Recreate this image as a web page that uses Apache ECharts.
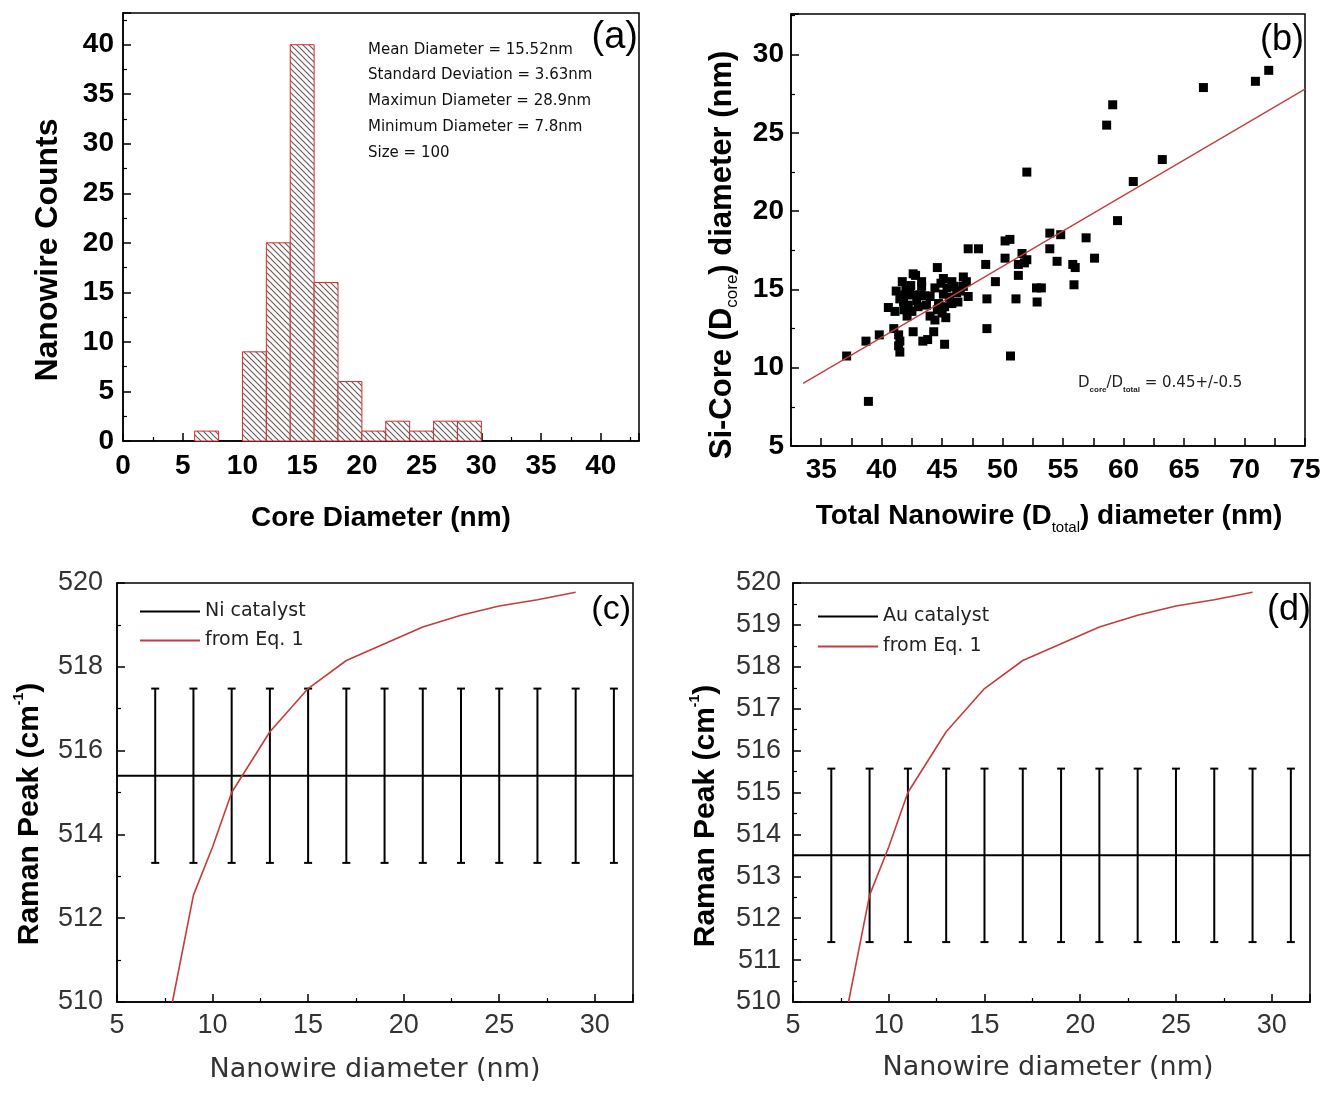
<!DOCTYPE html>
<html>
<head>
<meta charset="utf-8">
<script src="https://cdn.jsdelivr.net/npm/echarts@6/dist/echarts.min.js"></script>
<style>
  html, body { margin: 0; padding: 0; background: #fff; }
  #chart { width: 1329px; height: 1093px; }
</style>
</head>
<body>
<div id="chart"></div>
<script>
// (a) histogram of core diameters
var binLeft = [6, 10, 12, 14, 16, 18, 20, 22, 24, 26, 28];
var binCounts = [1, 9, 20, 40, 16, 6, 1, 2, 1, 2, 2];
var binWidth = 2;
var statsText = [
    'Mean Diameter = 15.52nm',
    'Standard Deviation = 3.63nm',
    'Maximun Diameter = 28.9nm',
    'Minimum Diameter = 7.8nm',
    'Size = 100'
];

// (b) core vs total diameter
var totalDiameter = [
    72.0, 70.9, 66.6, 59.1, 58.6, 52.0, 63.2, 60.8, 59.5, 56.9,
    57.6, 53.9, 54.8, 53.9, 54.5, 55.8, 56.0, 55.9, 52.8, 53.2,
    52.85, 51.6, 52.0, 51.8, 51.3, 51.3, 51.1, 50.65, 50.2, 50.6,
    50.2, 49.4, 48.6, 48.7, 48.7, 47.15, 48.0, 38.9, 37.1, 38.7,
    39.8, 41.0, 44.6, 42.6, 41.7, 42.4, 43.3, 43.3, 41.2, 41.9,
    42.6, 43.2, 41.8, 42.2, 41.85, 42.5, 42.1, 40.55, 44.0, 43.7,
    44.4, 45.1, 45.4, 45.8, 46.0, 46.75, 46.75, 46.5, 45.1, 44.7,
    45.2, 45.8, 45.0, 46.3, 47.15, 44.0, 44.4, 42.6, 44.3, 43.4,
    43.8, 45.2, 41.4, 41.5, 41.4, 41.5, 42.9, 42.3, 43.0, 41.5,
    44.9, 45.6, 42.8, 44.6, 46.2, 42.0, 43.6, 45.3, 47.0, 41.1
];
var coreDiameter = [
    29.0, 28.3, 27.9, 26.8, 25.5, 22.5, 23.3, 21.9, 19.4, 18.3,
    17.0, 18.6, 18.5, 17.6, 16.8, 16.6, 16.4, 15.3, 15.1, 15.1,
    14.2, 17.3, 16.9, 16.7, 16.6, 15.9, 14.4, 10.75, 18.1, 18.2,
    17.0, 15.5, 16.6, 14.4, 12.5, 17.6, 17.6, 7.85, 10.75, 11.7,
    12.1, 12.5, 16.4, 16.0, 15.5, 15.25, 15.5, 15.2, 14.9, 14.65,
    14.65, 14.65, 14.2, 14.0, 13.7, 13.6, 13.3, 13.85, 14.55, 14.0,
    15.1, 15.7, 15.1, 15.5, 15.2, 15.8, 15.2, 14.9, 14.7, 14.1,
    13.9, 14.1, 13.5, 14.2, 14.55, 13.3, 13.05, 12.3, 12.3, 11.7,
    11.8, 11.5, 12.1, 11.7, 11.4, 11.0, 14.3, 14.9, 13.9, 14.4,
    15.4, 14.5, 15.9, 13.7, 14.8, 15.0, 14.6, 13.2, 15.5, 13.6
];
var fitLine = [[33.5, 9.0], [75, 27.8]];
var bXLabels = [35, 40, 45, 50, 55, 60, 65, 70, 75];

// (c),(d) Raman peak
var errX = [7, 9, 11, 13, 15, 17, 19, 21, 23, 25, 27, 29, 31];
var niMean = 515.4, niErr = 2.08;
var auMean = 513.5, auErr = 2.07;
var eqX = [7.9, 9, 10, 11, 13, 15, 17, 19, 21, 23, 25, 27, 29];
var eqY = [510.0, 512.55, 513.7, 515.0, 516.45, 517.48, 518.15, 518.55, 518.95, 519.23, 519.45, 519.6, 519.78];

var BOLD = '"Liberation Sans", Arial, sans-serif';
var THIN = '"DejaVu Sans", sans-serif';
var RED = '#c43c3c';

function hatch() {
    var c = document.createElement('canvas');
    c.width = 6; c.height = 6;
    var g = c.getContext('2d');
    g.fillStyle = '#fff';
    g.fillRect(0, 0, 6, 6);
    g.strokeStyle = '#7a5858';
    g.lineWidth = 1.2;
    g.beginPath();
    g.moveTo(-1, -1); g.lineTo(7, 7);
    g.moveTo(-1, 5); g.lineTo(1, 7);
    g.moveTo(5, -1); g.lineTo(7, 1);
    g.stroke();
    return c;
}
var hatchFill = { image: hatch(), repeat: 'repeat' };

var histData = binLeft.map(function (b, i) { return [b, b + binWidth, binCounts[i]]; });
var scatterData = totalDiameter.map(function (x, i) { return [x, coreDiameter[i]]; });
var eqData = eqX.map(function (x, i) { return [x, eqY[i]]; });
var niBars = errX.map(function (x) { return [x, niMean - niErr, niMean + niErr]; });
var auBars = errX.map(function (x) { return [x, auMean - auErr, auMean + auErr]; });

function renderBar(params, api) {
    var p0 = api.coord([api.value(0), api.value(2)]);
    var p1 = api.coord([api.value(1), 0]);
    return {
        type: 'rect',
        shape: { x: p0[0], y: p0[1], width: p1[0] - p0[0], height: p1[1] - p0[1] },
        style: { fill: hatchFill, stroke: '#d42a2a', lineWidth: 1 }
    };
}

function renderErr(params, api) {
    var x = api.value(0);
    var lo = api.coord([x, api.value(1)]);
    var hi = api.coord([x, api.value(2)]);
    var cap = 4;
    var st = { stroke: '#000', lineWidth: 2 };
    return {
        type: 'group',
        children: [
            { type: 'line', shape: { x1: lo[0], y1: lo[1], x2: hi[0], y2: hi[1] }, style: st },
            { type: 'line', shape: { x1: lo[0] - cap, y1: lo[1], x2: lo[0] + cap, y2: lo[1] }, style: st },
            { type: 'line', shape: { x1: hi[0] - cap, y1: hi[1], x2: hi[0] + cap, y2: hi[1] }, style: st }
        ]
    };
}

function axisBase(o) {
    var a = {
        type: 'value',
        gridIndex: o.grid,
        min: o.min, max: o.max, interval: o.interval,
        axisLine: { show: true, onZero: false, lineStyle: { color: '#000', width: 1.5 } },
        axisTick: { show: true, inside: true, length: 8, lineStyle: { color: '#000', width: 1.5 } },
        minorTick: { show: o.minor !== false, splitNumber: 2, length: 4, lineStyle: { color: '#000', width: 1.2 } },
        splitLine: { show: false },
        axisLabel: {
            show: true,
            margin: o.margin,
            showMaxLabel: o.showMax === true,
            color: o.bold ? '#000' : '#333',
            fontFamily: o.bold ? BOLD : '"Liberation Sans", Arial, sans-serif',
            fontWeight: o.bold ? 'bold' : 'normal',
            fontSize: o.size
        }
    };
    if (o.labels) {
        a.axisLabel.customValues = o.labels;
        a.axisLabel.formatter = function (v) { return o.labels.indexOf(v) >= 0 ? String(v) : ''; };
    }
    return a;
}

function txt(x, y, text, font, opt) {
    opt = opt || {};
    return {
        type: 'text', x: x, y: y, rotation: opt.rot || 0, silent: true,
        style: {
            text: text, font: font, fill: opt.fill || '#000',
            align: opt.align || 'center', verticalAlign: 'middle',
            rich: opt.rich
        }
    };
}

var chart = echarts.init(document.getElementById('chart'));
chart.setOption({
    animation: false,
    backgroundColor: '#fff',
    grid: [
        { left: 123, top: 13, width: 516, height: 428, show: true, borderColor: '#000', borderWidth: 1.5 },
        { left: 791, top: 14, width: 514, height: 432, show: true, borderColor: '#000', borderWidth: 1.5 },
        { left: 117, top: 583, width: 516, height: 419, show: true, borderColor: '#000', borderWidth: 1.5 },
        { left: 793, top: 583, width: 517, height: 419, show: true, borderColor: '#000', borderWidth: 1.5 }
    ],
    xAxis: [
        axisBase({ grid: 0, min: 0, max: 43.2, interval: 5, margin: 11, size: 28, bold: true }),
        axisBase({ grid: 1, min: 32.5, max: 75, interval: 2.5, margin: 10, size: 28, bold: true, minor: false, labels: bXLabels, showMax: true }),
        axisBase({ grid: 2, min: 5, max: 32, interval: 5, margin: 10, size: 27 }),
        axisBase({ grid: 3, min: 5, max: 32, interval: 5, margin: 10, size: 27 })
    ],
    yAxis: [
        axisBase({ grid: 0, min: 0, max: 43.2, interval: 5, margin: 9, size: 28, bold: true }),
        axisBase({ grid: 1, min: 5, max: 32.6, interval: 5, margin: 7, size: 28, bold: true }),
        axisBase({ grid: 2, min: 510, max: 520, interval: 2, margin: 14, size: 27, showMax: true }),
        axisBase({ grid: 3, min: 510, max: 520, interval: 1, margin: 12, size: 27, showMax: true })
    ],
    legend: [
        {
            data: ['Ni catalyst', 'from Eq. 1'], left: 135, top: 597, orient: 'vertical',
            icon: 'rect', itemWidth: 60, itemHeight: 2, itemGap: 10, selectedMode: false,
            textStyle: { fontFamily: THIN, fontSize: 19, color: '#222' }
        },
        {
            data: ['Au catalyst', 'from Eq. 1'], left: 813, top: 602, orient: 'vertical',
            icon: 'rect', itemWidth: 60, itemHeight: 2, itemGap: 11, selectedMode: false,
            textStyle: { fontFamily: THIN, fontSize: 19, color: '#222' }
        }
    ],
    series: [
        { type: 'custom', xAxisIndex: 0, yAxisIndex: 0, renderItem: renderBar, data: histData, encode: { x: [0, 1], y: 2 } },
        {
            type: 'scatter', xAxisIndex: 1, yAxisIndex: 1, data: scatterData,
            symbol: 'rect', symbolSize: 9, itemStyle: { color: '#000', opacity: 1 }
        },
        {
            type: 'line', xAxisIndex: 1, yAxisIndex: 1, data: fitLine, showSymbol: false,
            lineStyle: { color: RED, width: 1.3 }, z: 3
        },
        {
            name: 'Ni catalyst', type: 'line', xAxisIndex: 2, yAxisIndex: 2,
            data: [[5, niMean], [32, niMean]], showSymbol: false,
            itemStyle: { color: '#000' }, lineStyle: { color: '#000', width: 2 }
        },
        { type: 'custom', xAxisIndex: 2, yAxisIndex: 2, renderItem: renderErr, data: niBars, encode: { x: 0, y: [1, 2] } },
        {
            name: 'from Eq. 1', type: 'line', xAxisIndex: 2, yAxisIndex: 2, data: eqData, showSymbol: false,
            itemStyle: { color: RED }, lineStyle: { color: RED, width: 1.6 }, clip: true, z: 4
        },
        {
            name: 'Au catalyst', type: 'line', xAxisIndex: 3, yAxisIndex: 3,
            data: [[5, auMean], [32, auMean]], showSymbol: false,
            itemStyle: { color: '#000' }, lineStyle: { color: '#000', width: 2 }
        },
        { type: 'custom', xAxisIndex: 3, yAxisIndex: 3, renderItem: renderErr, data: auBars, encode: { x: 0, y: [1, 2] } },
        {
            name: 'from Eq. 1', type: 'line', xAxisIndex: 3, yAxisIndex: 3, data: eqData, showSymbol: false,
            itemStyle: { color: RED }, lineStyle: { color: RED, width: 1.6 }, clip: true, z: 4
        }
    ],
    graphic: [
        // panel tags
        txt(638, 38, '(a)', '38px ' + BOLD, { align: 'right' }),
        txt(1304, 40, '(b)', '36px ' + BOLD, { align: 'right' }),
        txt(631, 610, '(c)', '34px ' + BOLD, { align: 'right' }),
        txt(1311, 610, '(d)', '36px ' + BOLD, { align: 'right' }),
        // stats in (a)
        txt(368, 50, statsText[0], '15px ' + THIN, { align: 'left', fill: '#111' }),
        txt(368, 75, statsText[1], '15px ' + THIN, { align: 'left', fill: '#111' }),
        txt(368, 101, statsText[2], '15px ' + THIN, { align: 'left', fill: '#111' }),
        txt(368, 127, statsText[3], '15px ' + THIN, { align: 'left', fill: '#111' }),
        txt(368, 153, statsText[4], '15px ' + THIN, { align: 'left', fill: '#111' }),
        // ratio in (b)
        txt(1078, 383, '{n|D}{s|core}{n|/D}{s|total}{n| = 0.45+/-0.5}', '15px ' + THIN, {
            align: 'left', fill: '#222',
            rich: {
                n: { fontFamily: THIN, fontSize: 15, lineHeight: 22, verticalAlign: 'middle' },
                s: { fontFamily: BOLD, fontSize: 8, fontWeight: 'bold', lineHeight: 22, verticalAlign: 'bottom' }
            }
        }),
        // axis titles
        txt(48, 250, 'Nanowire Counts', 'bold 32px ' + BOLD, { rot: Math.PI / 2 }),
        txt(381, 518, 'Core Diameter (nm)', 'bold 28px ' + BOLD),
        txt(722, 255, 'Si-Core (D{s|core}) diameter (nm)', 'bold 31px ' + BOLD, {
            rot: Math.PI / 2,
            rich: {
                s: { fontFamily: BOLD, fontSize: 17, fontWeight: 'normal', verticalAlign: 'bottom', lineHeight: 38 }
            }
        }),
        txt(1049, 516, 'Total Nanowire (D{s|total}) diameter (nm)', 'bold 28px ' + BOLD, {
            rich: {
                s: { fontFamily: BOLD, fontSize: 15, fontWeight: 'normal', verticalAlign: 'bottom', lineHeight: 38 }
            }
        }),
        txt(30, 814, 'Raman Peak (cm{t|-1})', 'bold 30px ' + BOLD, {
            rot: Math.PI / 2,
            rich: { t: { fontFamily: BOLD, fontSize: 14, fontWeight: 'bold', verticalAlign: 'top', lineHeight: 36 } }
        }),
        txt(706, 816, 'Raman Peak (cm{t|-1})', 'bold 30px ' + BOLD, {
            rot: Math.PI / 2,
            rich: { t: { fontFamily: BOLD, fontSize: 14, fontWeight: 'bold', verticalAlign: 'top', lineHeight: 36 } }
        }),
        txt(375, 1070, 'Nanowire diameter (nm)', '27px ' + THIN, { fill: '#333' }),
        txt(1048, 1068, 'Nanowire diameter (nm)', '27px ' + THIN, { fill: '#333' })
    ]
});
</script>
</body>
</html>
